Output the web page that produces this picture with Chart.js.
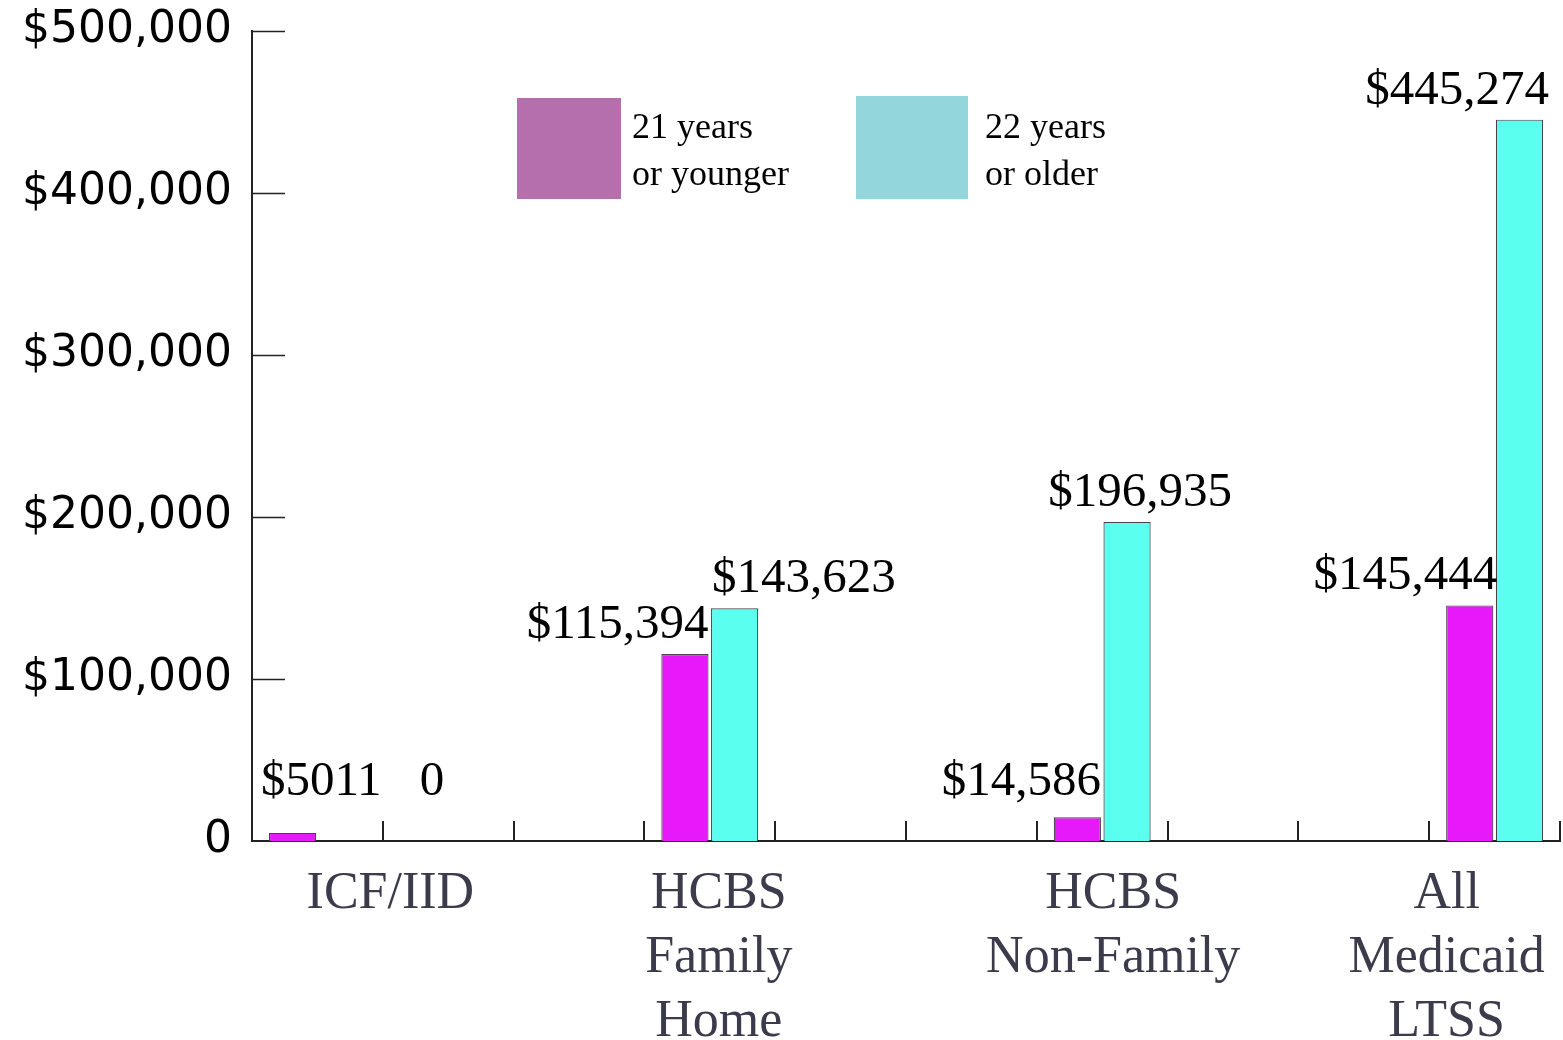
<!DOCTYPE html>
<html>
<head>
<meta charset="utf-8">
<script src="https://cdn.jsdelivr.net/npm/chart.js@4.4.0/dist/chart.umd.min.js"></script>
<style>
  html, body { margin: 0; padding: 0; background: #fff; }
  #wrap { width: 1563px; height: 1040px; position: relative; }
</style>
</head>
<body>
<div id="wrap"><canvas id="costChart"></canvas></div>
<script>
'use strict';
// data
var categories = ['ICF/IID', 'HCBS\nFamily\nHome', 'HCBS\nNon-Family', 'All\nMedicaid\nLTSS'];
var young = [5011, 115394, 14586, 145444];   // 21 years or younger
var older = [0, 143623, 196935, 445274];     // 22 years or older
var seriesNames = ['21 years\nor younger', '22 years\nor older'];
var yTicks = [0, 100000, 200000, 300000, 400000, 500000];

// each category sits every 3rd slot on the axis
var SLOT_STEP = 3;
var slotCount = SLOT_STEP * (categories.length - 1) + 1;
var slotLabels = [];
var youngSlots = [];
var olderSlots = [];
for (var s = 0; s < slotCount; s++) {
    slotLabels.push('');
    youngSlots.push(null);
    olderSlots.push(null);
}
categories.forEach(function (c, i) {
    slotLabels[i * SLOT_STEP] = c;
    youngSlots[i * SLOT_STEP] = young[i];
    olderSlots[i * SLOT_STEP] = older[i];
});

// value label placement per bar (align to bar edge + small nudge)
var labelAlign = [
    [['left', -8], ['right', 0], ['right', 0], ['right', 4]],
    [['left', 101], ['left', 1], ['center', 13], ['right', 6]]
];
var catLabelShift = [73, 9, 11, -48];
var legendColors = ['#b46fac', '#93d6dc'];

function moneyLabel(v) {
    if (v === 0) return '0';
    if (v < 10000) return '$' + v;
    return '$' + v.toLocaleString('en-US');
}

var decorPlugin = {
    id: 'decor',
    afterDatasetsDraw: function (chart) {
        var ctx = chart.ctx;
        var area = chart.chartArea;
        var x = chart.scales.x;
        var y = chart.scales.y;
        ctx.save();
        // inward tick marks
        ctx.strokeStyle = '#222';
        ctx.lineWidth = 2;
        var step = x.getPixelForValue(1) - x.getPixelForValue(0);
        for (var i = 0; i < slotCount; i++) {
            var bx = Math.round(x.getPixelForValue(i) + step / 2);
            ctx.beginPath();
            ctx.moveTo(bx, area.bottom - 20);
            ctx.lineTo(bx, area.bottom);
            ctx.stroke();
        }
        yTicks.forEach(function (v) {
            if (v === 0) return;
            var py = Math.round(y.getPixelForValue(v)) + 0.5;
            ctx.lineWidth = 1.5;
            ctx.beginPath();
            ctx.moveTo(area.left, py);
            ctx.lineTo(area.left + 33, py);
            ctx.stroke();
        });

        // value labels
        ctx.fillStyle = '#000';
        ctx.font = '49px "Liberation Serif", serif';
        ctx.textBaseline = 'alphabetic';
        chart.data.datasets.forEach(function (ds, di) {
            var meta = chart.getDatasetMeta(di);
            var n = 0;
            meta.data.forEach(function (bar, si) {
                var v = ds.data[si];
                if (v === null) return;
                var p = bar.getProps(['x', 'y', 'width', 'base'], true);
                var al = labelAlign[di][n];
                var tx;
                if (al[0] === 'left') tx = p.x - p.width / 2;
                else if (al[0] === 'right') tx = p.x + p.width / 2;
                else tx = p.x;
                ctx.textAlign = al[0];
                var ty = Math.min(p.y - 16, area.bottom - 46);
                ctx.fillText(moneyLabel(v), tx + al[1], ty);
                n++;
            });
        });

        // category labels
        ctx.fillStyle = '#3b3b4b';
        ctx.font = '52px "Liberation Serif", serif';
        ctx.textAlign = 'center';
        categories.forEach(function (c, i) {
            var cx = x.getPixelForValue(i * SLOT_STEP) + catLabelShift[i];
            c.split('\n').forEach(function (line, li) {
                ctx.fillText(line, cx, area.bottom + 67 + li * 64);
            });
        });

        // legend
        var legendBoxes = [[517, 98, 104, 101], [856, 96, 112, 103]];
        ctx.font = '36px "Liberation Serif", serif';
        ctx.textAlign = 'left';
        seriesNames.forEach(function (name, i) {
            var b = legendBoxes[i];
            ctx.fillStyle = legendColors[i];
            ctx.fillRect(b[0], b[1], b[2], b[3]);
            ctx.fillStyle = '#000';
            name.split('\n').forEach(function (line, li) {
                ctx.fillText(line, b[0] + b[2] + (i === 0 ? 11 : 17), 138 + li * 47);
            });
        });
        ctx.restore();
    }
};

var ctx = document.getElementById('costChart').getContext('2d');
var chart = new Chart(ctx, {
    type: 'bar',
    data: {
        labels: slotLabels,
        datasets: [{
            label: '21 years or younger',
            data: youngSlots,
            backgroundColor: '#e719fb',
            borderColor: '#444',
            borderWidth: 1.2,
            categoryPercentage: 0.76,
            barPercentage: 0.95
        }, {
            label: '22 years or older',
            data: olderSlots,
            backgroundColor: '#5afff0',
            borderColor: '#444',
            borderWidth: 1.2,
            categoryPercentage: 0.76,
            barPercentage: 0.95
        }]
    },
    options: {
        responsive: true,
        maintainAspectRatio: false,
        animation: false,
        layout: { padding: { top: 31, right: 3, left: 0, bottom: 0 } },
        plugins: {
            legend: { display: false },
            tooltip: { enabled: false }
        },
        scales: {
            x: {
                grid: { display: false },
                border: { display: true, color: '#222', width: 2 },
                ticks: { display: false },
                afterFit: function (scale) { scale.height = 199; }
            },
            y: {
                min: 0,
                max: 500000,
                afterBuildTicks: function (scale) {
                    scale.ticks = yTicks.map(function (v) { return { value: v }; });
                },
                grid: { display: false },
                border: { display: true, color: '#222', width: 2 },
                ticks: {
                    color: '#000',
                    padding: 12,
                    font: { family: '"DejaVu Sans", sans-serif', size: 44 },
                    callback: function (v) {
                        return v === 0 ? '0' : '$' + Number(v).toLocaleString('en-US');
                    }
                },
                afterFit: function (scale) {
                    scale.width = 252;
                    scale.paddingTop = 0;
                    scale.paddingBottom = 0;
                }
            }
        }
    },
    plugins: [decorPlugin]
});
</script>
</body>
</html>
